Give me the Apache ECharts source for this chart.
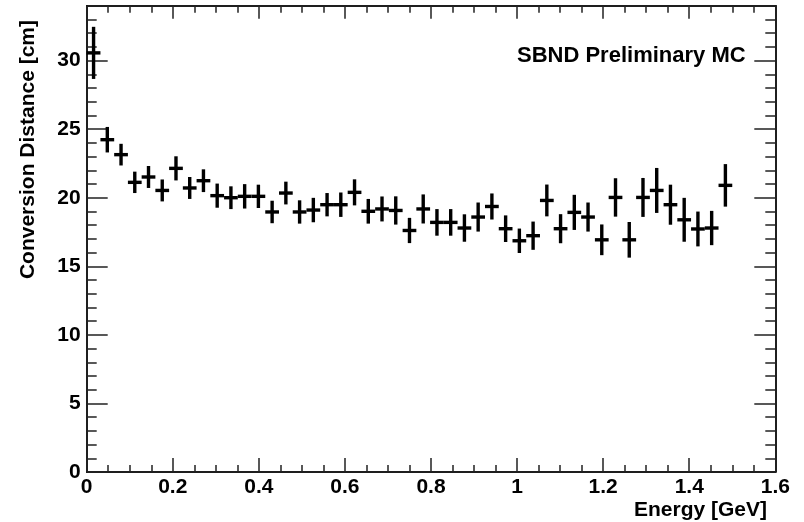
<!DOCTYPE html>
<html>
<head>
<meta charset="utf-8">
<script src="https://cdn.jsdelivr.net/npm/echarts@6/dist/echarts.min.js"></script>
<style>
  html, body { margin: 0; padding: 0; background: #fff; }
  #chart { width: 804px; height: 522px; }
</style>
</head>
<body>
<div id="chart"></div>
<script>
// conversion distance per energy bin (47 bins between 0 and 1.5 GeV)
var binLow = 0;
var binHigh = 1.5;
var distance = [30.56, 24.23, 23.14, 21.12, 21.51, 20.53, 22.14, 20.71, 21.24, 20.15,
    20.0, 20.1, 20.1, 18.96, 20.34, 18.96, 19.1, 19.49, 19.49, 20.39,
    19.01, 19.18, 19.07, 17.61, 19.18, 18.2, 18.2, 17.79, 18.59, 19.36,
    17.74, 16.86, 17.23, 19.8, 17.74, 18.93, 18.59, 16.93, 20.02, 16.93,
    20.02, 20.53, 19.49, 18.39, 17.72, 17.79, 20.9];
var distanceErr = [1.9, 0.93, 0.79, 0.78, 0.8, 0.8, 0.88, 0.8, 0.83, 0.88,
    0.83, 0.89, 0.85, 0.82, 0.83, 0.85, 0.89, 0.85, 0.89, 0.95,
    0.9, 0.91, 1.03, 0.92, 1.06, 0.97, 0.97, 1.0, 1.06, 0.95,
    0.97, 0.89, 1.03, 1.16, 1.06, 1.28, 1.06, 1.12, 1.4, 1.3,
    1.42, 1.64, 1.46, 1.6, 1.27, 1.25, 1.55];

var xMajor = [0, 0.2, 0.4, 0.6, 0.8, 1, 1.2, 1.4, 1.6];
var xMinor = [0.05, 0.1, 0.15, 0.25, 0.3, 0.35, 0.45, 0.5, 0.55, 0.65, 0.7, 0.75,
    0.85, 0.9, 0.95, 1.05, 1.1, 1.15, 1.25, 1.3, 1.35, 1.45, 1.5, 1.55];
var yMajor = [0, 5, 10, 15, 20, 25, 30];
var yMinor = [1, 2, 3, 4, 6, 7, 8, 9, 11, 12, 13, 14, 16, 17, 18, 19,
    21, 22, 23, 24, 26, 27, 28, 29, 31, 32, 33];

var binWidth = (binHigh - binLow) / distance.length;
var points = distance.map(function (v, i) {
    return [binLow + (i + 0.5) * binWidth, v, distanceErr[i]];
});

var FONT = '"Liberation Sans", Arial, Helvetica, sans-serif';
var chart = echarts.init(document.getElementById('chart'));

function xAxisDef(pos, ticks, len, labels) {
    return {
        type: 'value', position: pos, min: 0, max: 1.6,
        axisLine: { show: true, onZero: false, lineStyle: { color: '#111', width: 1.5 } },
        axisTick: { show: true, inside: true, length: len, customValues: ticks,
            lineStyle: { color: '#222', width: 1.5 } },
        axisLabel: labels ? { show: true, customValues: xMajor, margin: 5, color: '#000',
            fontFamily: FONT, fontWeight: 'bold', fontSize: 21 } : { show: false },
        splitLine: { show: false }
    };
}
function yAxisDef(pos, ticks, len, labels) {
    return {
        type: 'value', position: pos, min: 0, max: 34,
        axisLine: { show: true, onZero: false, lineStyle: { color: '#111', width: 1.5 } },
        axisTick: { show: true, inside: true, length: len, customValues: ticks,
            lineStyle: { color: '#222', width: 1.5 } },
        axisLabel: labels ? { show: true, customValues: yMajor, margin: 6, color: '#000',
            fontFamily: FONT, fontWeight: 'bold', fontSize: 21 } : { show: false },
        splitLine: { show: false }
    };
}

function renderCross(params, api) {
    var x = api.value(0), y = api.value(1), e = api.value(2);
    var c = api.coord([x, y]);
    var l = api.coord([x - binWidth / 2, y]);
    var r = api.coord([x + binWidth / 2, y]);
    var t = api.coord([x, y + e]);
    var b = api.coord([x, y - e]);
    var st = { stroke: '#000', lineWidth: 3.4 };
    return {
        type: 'group',
        children: [
            { type: 'line', shape: { x1: l[0], y1: c[1], x2: r[0], y2: c[1] }, style: st },
            { type: 'line', shape: { x1: c[0], y1: t[1], x2: c[0], y2: b[1] }, style: st }
        ]
    };
}

chart.setOption({
    animation: false,
    backgroundColor: '#fff',
    grid: { left: 86.7, right: 28.7, top: 5.7, bottom: 50, containLabel: false, outerBoundsMode: 'none' },
    xAxis: [
        xAxisDef('bottom', xMajor, 14, true),
        xAxisDef('bottom', xMinor, 7, false),
        xAxisDef('top', xMajor, 13, false),
        xAxisDef('top', xMinor, 7, false)
    ],
    yAxis: [
        yAxisDef('left', yMajor, 21, true),
        yAxisDef('left', yMinor, 10, false),
        yAxisDef('right', yMajor, 21, false),
        yAxisDef('right', yMinor, 10, false)
    ],
    graphic: [
        {
            type: 'text', x: 28, y: 20, rotation: Math.PI / 2,
            style: { text: 'Conversion Distance [cm]', fill: '#000', font: 'bold 21px ' + FONT,
                textAlign: 'right', textVerticalAlign: 'middle' }
        },
        {
            type: 'text', x: 767, y: 510,
            style: { text: 'Energy [GeV]', fill: '#000', font: 'bold 21px ' + FONT,
                textAlign: 'right', textVerticalAlign: 'middle' }
        },
        {
            type: 'text', x: 517, y: 56,
            style: { text: 'SBND Preliminary MC', fill: '#000', font: 'bold 22px ' + FONT,
                textAlign: 'left', textVerticalAlign: 'middle' }
        }
    ],
    series: [
        {
            type: 'custom',
            xAxisIndex: 0,
            yAxisIndex: 0,
            renderItem: renderCross,
            encode: { x: 0, y: 1 },
            data: points,
            clip: false
        }
    ]
});
</script>
</body>
</html>
